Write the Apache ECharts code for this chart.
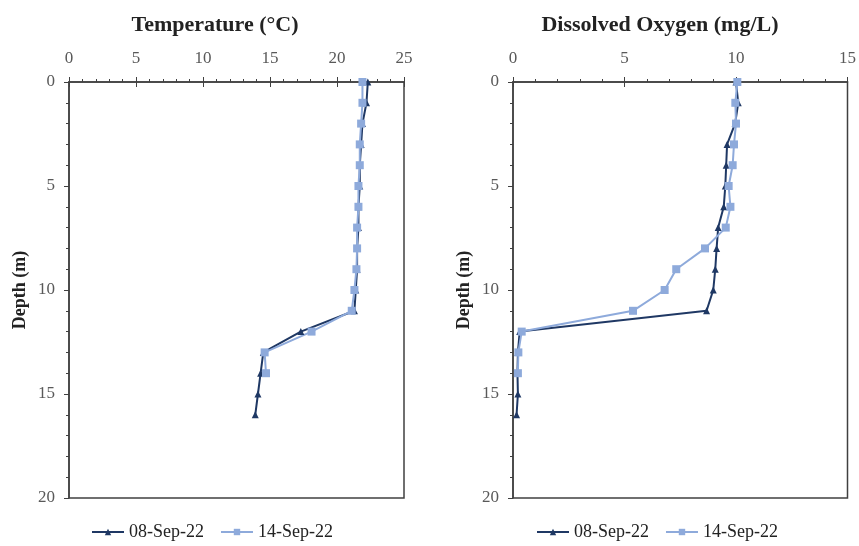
<!DOCTYPE html>
<html><head><meta charset="utf-8">
<script src="https://cdn.jsdelivr.net/npm/echarts@6/dist/echarts.min.js"></script>
<style>html,body{margin:0;padding:0;background:#fff}#c{width:859px;height:546px}</style>
</head><body><div id="c"></div>
<script>
const seriesNames = ['08-Sep-22', '14-Sep-22'];
const depthA = [0,1,2,3,4,5,6,7,8,9,10,11,12,13,14,15,16];
const depthB = [0,1,2,3,4,5,6,7,8,9,10,11,12,13,14];
const tempA = [22.3,22.2,21.9,21.8,21.7,21.7,21.6,21.6,21.5,21.5,21.4,21.3,17.3,14.5,14.3,14.1,13.9];
const tempB = [21.9,21.9,21.8,21.7,21.7,21.6,21.6,21.5,21.5,21.45,21.3,21.1,18.1,14.6,14.7];
const doA = [10.0,10.1,9.96,9.6,9.56,9.52,9.45,9.2,9.13,9.07,8.98,8.68,0.3,0.22,0.2,0.22,0.16];
const doB = [10.06,9.97,10.0,9.91,9.85,9.67,9.75,9.54,8.61,7.32,6.8,5.38,0.39,0.24,0.22];
const titles = ['Temperature (°C)', 'Dissolved Oxygen (mg/L)'];
const yName = 'Depth (m)';

const FONT = '"Liberation Serif", "Times New Roman", serif';
const AX = '#404040', LBL = '#595959';
const C1 = '#1f3864', C2 = '#8eaadb';
const pairs = (xs, ys) => xs.map((v, i) => [v, ys[i]]);

const grids = [
  {left: 69, top: 82, width: 335, height: 416},
  {left: 513, top: 82, width: 337, height: 416}
];
const xMax = [25, 15];

const xAxis = [], yAxis = [];
grids.forEach((g, i) => {
  xAxis.push({type: 'value', gridIndex: i, position: 'top', min: 0, max: xMax[i], interval: 5,
    axisLine: {show: true, lineStyle: {color: AX, width: 1.5}},
    axisTick: {show: true, inside: false, length: 5, lineStyle: {color: AX}},
    minorTick: {show: true, splitNumber: 5, length: 3, lineStyle: {color: AX}},
    axisLabel: {color: LBL, fontFamily: FONT, fontSize: 17, margin: 15},
    splitLine: {show: false}});
  xAxis.push({type: 'value', gridIndex: i, position: 'top', min: 0, max: xMax[i], interval: 5,
    axisLine: {show: false}, axisTick: {show: true, inside: true, length: 5, lineStyle: {color: AX}},
    minorTick: {show: false}, axisLabel: {show: false}, splitLine: {show: false}});
  yAxis.push({type: 'value', gridIndex: i, inverse: true, min: 0, max: 20, interval: 5,
    name: yName, nameLocation: 'middle', nameGap: 40, nameRotate: 90,
    nameTextStyle: {fontFamily: FONT, fontWeight: 'bold', fontSize: 18, color: '#222'},
    axisLine: {show: true, lineStyle: {color: AX, width: 1.5}},
    axisTick: {show: true, inside: false, length: 5, lineStyle: {color: AX}},
    minorTick: {show: true, splitNumber: 5, length: 3, lineStyle: {color: AX}},
    axisLabel: {color: LBL, fontFamily: FONT, fontSize: 17, margin: 14},
    splitLine: {show: false}});
  yAxis.push({type: 'value', gridIndex: i, inverse: true, min: 0, max: 20, interval: 5,
    axisLine: {show: false}, axisTick: {show: true, inside: true, length: 5, lineStyle: {color: AX}},
    minorTick: {show: false}, axisLabel: {show: false}, splitLine: {show: false}});
});

const mk = (name, data, gi, color, sym, size) => ({
  name, type: 'line', data, xAxisIndex: gi * 2, yAxisIndex: gi * 2,
  symbol: sym, symbolSize: size, showSymbol: true,
  lineStyle: {color, width: 2}, itemStyle: {color}, animation: false
});

const chart = echarts.init(document.getElementById('c'), null, {renderer: 'canvas'});
chart.setOption({
  backgroundColor: '#fff',
  animation: false,
  title: [
    {text: titles[0], left: 210, top: 9, textAlign: 'center', textStyle: {fontFamily: FONT, fontWeight: 'bold', fontSize: 22, color: '#222'}},
    {text: titles[1], left: 655, top: 9, textAlign: 'center', textStyle: {fontFamily: FONT, fontWeight: 'bold', fontSize: 22, color: '#222'}}
  ],
  grid: grids.map(g => Object.assign({show: true, borderColor: AX, borderWidth: 1.5, backgroundColor: 'transparent'}, g)),
  xAxis, yAxis,
  legend: [
    {left: 86, top: 518, itemWidth: 32, itemHeight: 8, itemGap: 16, data: seriesNames,
     textStyle: {fontFamily: FONT, fontSize: 18, color: '#222'}},
    {left: 531, top: 518, itemWidth: 32, itemHeight: 8, itemGap: 16, data: seriesNames,
     textStyle: {fontFamily: FONT, fontSize: 18, color: '#222'}}
  ],
  series: [
    mk(seriesNames[0], pairs(tempA, depthA), 0, C1, 'triangle', 7),
    mk(seriesNames[1], pairs(tempB, depthB), 0, C2, 'rect', 8),
    mk(seriesNames[0], pairs(doA, depthA), 1, C1, 'triangle', 7),
    mk(seriesNames[1], pairs(doB, depthB), 1, C2, 'rect', 8)
  ]
});
</script></body></html>
